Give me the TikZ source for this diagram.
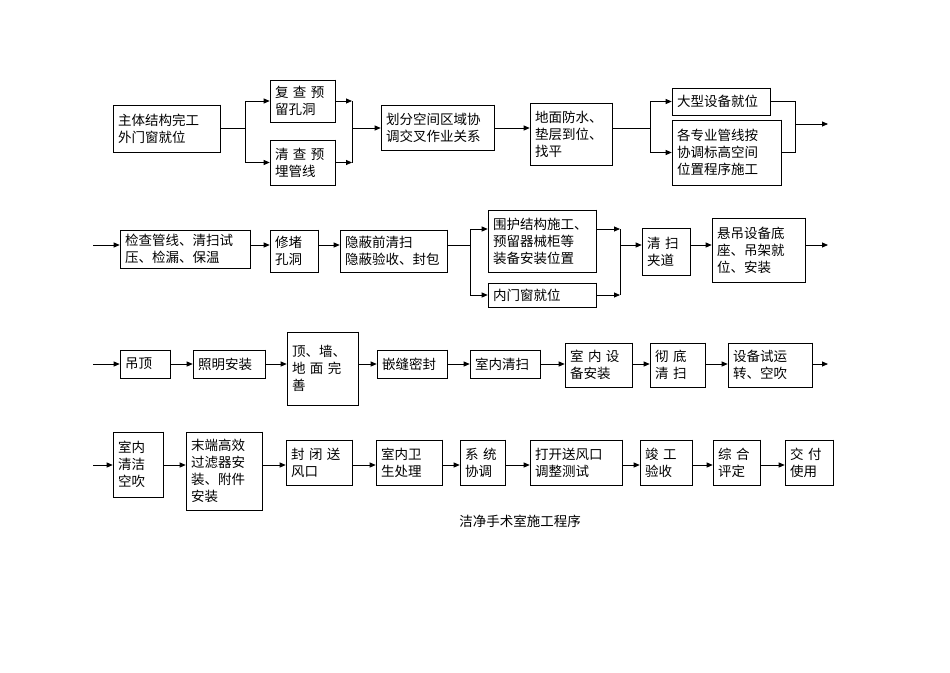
\documentclass[tikz,border=0pt]{standalone}
\usepackage{fontspec}
\setmainfont{Noto Sans CJK SC}
\usetikzlibrary{arrows.meta}
\newcommand{\bx}[6]{%
  \node[bx,minimum width={#4-#2},minimum height={#5-#3},text width={#4-#2-10}] (#1) at ({(#2+#4)/2},{(#3+#5)/2}) {#6};
  \draw[line width=1.3pt] (#1.north east) -- (#1.south east) -- (#1.south west);}
\begin{document}
\begin{tikzpicture}[x=1pt,y=-1pt,
  bx/.style={draw,line width=0.6pt,inner sep=3pt,align=left,font=\fontsize{13.5}{17}\selectfont},
  ar/.style={-{Triangle[length=6pt,width=5pt]},line width=0.8pt},
  ln/.style={line width=0.8pt}]
\useasboundingbox (0,0) rectangle (950,672);
% row 1
\bx{A}{113}{105}{220}{152}{主体结构完工\\外门窗就位}
\bx{B}{270}{80}{335}{122}{复 查 预\\留孔洞}
\bx{C}{270}{140}{335}{185}{清 查 预\\埋管线}
\bx{D}{381}{105}{494}{150}{划分空间区域协\\调交叉作业关系}
\bx{E}{530}{103}{612}{165}{地面防水、\\垫层到位、\\找平}
\bx{F}{672}{88}{770}{115}{大型设备就位}
\bx{G}{672}{120}{781}{185}{各专业管线按\\协调标高空间\\位置程序施工}
\coordinate (s1) at (245,128);
\draw[ln] (A.east|-s1) -- (s1);
\draw[ar] (s1) |- (B.west);
\draw[ar] (s1) |- (C.west);
\coordinate (m1) at (352,128);
\draw[ar] (B.east) -- (B.east-|m1);
\draw[ar] (C.east) -- (C.east-|m1);
\draw[ln] (B.east-|m1) -- (C.east-|m1);
\draw[ar] (m1) -- (m1-|D.west);
\draw[ar] (D.east|-m1) -- (m1-|E.west);
\coordinate (s2) at (650,128);
\draw[ln] (E.east|-s2) -- (s2);
\draw[ar] (s2) |- (F.west);
\draw[ar] (s2) |- (G.west);
\coordinate (m2) at (795,124);
\coordinate (e1) at (828,124);
\draw[ln] (F.east) -| (m2);
\draw[ln] (G.east) -| (m2);
\draw[ar] (m2) -- (e1);
% row 2
\coordinate (b2) at (93,245);
\bx{H}{120}{230}{250}{268}{检查管线、清扫试\\压、检漏、保温}
\bx{I}{270}{230}{318}{272}{修堵\\孔洞}
\bx{J}{340}{230}{447}{272}{隐蔽前清扫\\隐蔽验收、封包}
\bx{K}{488}{210}{596}{272}{围护结构施工、\\预留器械柜等\\装备安装位置}
\bx{L}{488}{283}{596}{307}{内门窗就位}
\bx{M}{642}{228}{690}{275}{清 扫\\夹道}
\bx{N}{712}{218}{805}{282}{悬吊设备底\\座、吊架就\\位、安装}
\draw[ar] (b2) -- (b2-|H.west);
\draw[ar] (H.east|-b2) -- (b2-|I.west);
\draw[ar] (I.east|-b2) -- (b2-|J.west);
\coordinate (s3) at (470,245);
\draw[ln] (J.east|-s3) -- (s3);
\draw[ar] (s3) |- (K.west|-0,229);
\draw[ar] (s3) |- (L.west);
\coordinate (m3) at (620,245);
\draw[ar] (K.east|-0,229) -- (m3|-0,229);
\draw[ar] (L.east) -- (L.east-|m3);
\draw[ln] (m3|-0,229) -- (L.east-|m3);
\draw[ar] (m3) -- (m3-|M.west);
\draw[ar] (M.east|-b2) -- (b2-|N.west);
\coordinate (e2) at (828,245);
\draw[ar] (N.east|-e2) -- (e2);
% row 3
\coordinate (b3) at (93,364);
\bx{O}{120}{350}{170}{378}{吊顶}
\bx{P}{193}{350}{265}{378}{照明安装}
\bx{Q}{287}{332}{358}{405}{顶、墙、\\地 面 完\\善}
\bx{R}{377}{350}{447}{378}{嵌缝密封}
\bx{S}{470}{350}{540}{378}{室内清扫}
\bx{T}{565}{343}{632}{387}{室 内 设\\备安装}
\bx{U}{650}{343}{705}{387}{彻 底\\清 扫}
\bx{V}{728}{343}{812}{387}{设备试运\\转、空吹}
\draw[ar] (b3) -- (b3-|O.west);
\draw[ar] (O.east|-b3) -- (b3-|P.west);
\draw[ar] (P.east|-b3) -- (b3-|Q.west);
\draw[ar] (Q.east|-b3) -- (b3-|R.west);
\draw[ar] (R.east|-b3) -- (b3-|S.west);
\draw[ar] (S.east|-b3) -- (b3-|T.west);
\draw[ar] (T.east|-b3) -- (b3-|U.west);
\draw[ar] (U.east|-b3) -- (b3-|V.west);
\coordinate (e3) at (828,364);
\draw[ar] (V.east|-e3) -- (e3);
% row 4
\coordinate (b4) at (93,465);
\bx{W}{113}{432}{163}{497}{室内\\清洁\\空吹}
\bx{X}{186}{432}{262}{510}{末端高效\\过滤器安\\装、附件\\安装}
\bx{Y}{286}{440}{352}{485}{封 闭 送\\风口}
\bx{Z}{376}{440}{442}{485}{室内卫\\生处理}
\bx{AA}{460}{440}{505}{485}{系 统\\协调}
\bx{AB}{530}{440}{622}{485}{打开送风口\\调整测试}
\bx{AC}{640}{440}{692}{485}{竣 工\\验收}
\bx{AD}{713}{440}{760}{485}{综 合\\评定}
\bx{AE}{785}{440}{833}{485}{交 付\\使用}
\draw[ar] (b4) -- (b4-|W.west);
\foreach \a/\b in {W/X,X/Y,Y/Z,Z/AA,AA/AB,AB/AC,AC/AD,AD/AE}
  \draw[ar] (\a.east|-b4) -- (b4-|\b.west);
\node[font=\fontsize{13.5}{17}\selectfont] (cap) at (520,521) {洁净手术室施工程序};
\end{tikzpicture}
\end{document}
